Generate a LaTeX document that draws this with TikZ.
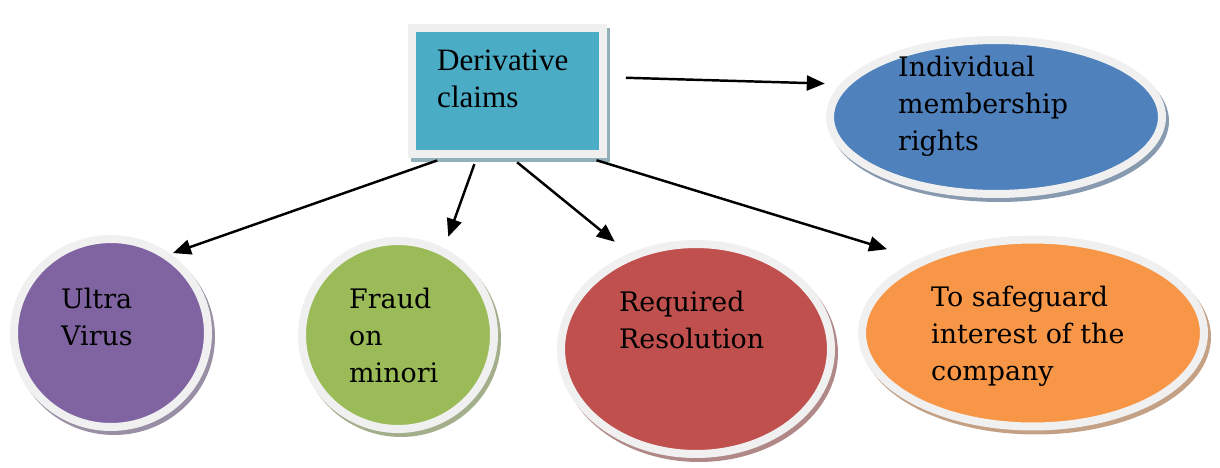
\documentclass[tikz,border=0pt]{standalone}
\usepackage{fontspec}
\setmainfont{Liberation Serif}
\newfontfamily\bubblefont{DejaVu Serif}
\usepackage{tikz}
\usetikzlibrary{arrows.meta,shapes.geometric}

\definecolor{boxteal}{HTML}{4BACC6}
\definecolor{boxshade}{HTML}{93AFB8}
\definecolor{ringgray}{HTML}{F0F0F0}
\definecolor{indblue}{HTML}{4F81BD}
\definecolor{ultrapurple}{HTML}{8064A2}
\definecolor{fraudgreen}{HTML}{9BBB59}
\definecolor{resolred}{HTML}{C0504D}
\definecolor{safeorange}{HTML}{F79646}

\begin{document}
\begin{tikzpicture}[
  x=0.02cm, y=-0.02cm,
  box/.style={draw=ringgray, line width=0.16cm, fill=boxteal, inner sep=0pt,
              minimum width=3.83cm, minimum height=2.53cm,
              preaction={draw=boxshade, fill=boxshade,
                         transform canvas={shift={(0.06cm,-0.08cm)}}}},
  bubble/.style={ellipse, draw=ringgray, line width=0.16cm, fill=#1, inner sep=0pt,
                 preaction={draw=#1!45!gray!80!white, fill=#1!45!gray!80!white,
                            transform canvas={shift={(0.06cm,-0.08cm)}}}},
  txt/.style={anchor=base west, inner sep=0pt, align=left,
              font=\bubblefont\fontsize{15.3}{21}\selectfont},
  >={Triangle[length=0.36cm,width=0.3cm]}, line width=1.4pt
]
\useasboundingbox (0,0) rectangle (1220,467);

\node[box] (claims) at (507.75,91.25) {};
\node[bubble=indblue, minimum width=6.64cm, minimum height=3.08cm] (indiv) at (996,117) {};
\node[bubble=ultrapurple, minimum width=3.88cm, minimum height=3.76cm] (ultra) at (111,333) {};
\node[bubble=fraudgreen, minimum width=3.84cm, minimum height=3.76cm] (fraud) at (398,335) {};
\node[bubble=resolred, minimum width=5.40cm, minimum height=4.20cm] (resol) at (696,349) {};
\node[bubble=safeorange, minimum width=6.84cm, minimum height=3.74cm] (safe) at (1033,333) {};

% base anchor sits on the last line
\node[txt, font=\fontsize{17.7}{21}\selectfont] (claimstxt) at (436,107) {Derivative\\claims};
\node[txt] (indivtxt) at (897,150) {Individual\\membership\\rights};
\node[txt] (ultratxt) at (60,345) {Ultra\\Virus};
\node[txt] (fraudtxt) at (348,382) {Fraud\\on\\minori};
\node[txt] (resoltxt) at (618,348) {Required\\Resolution};
\node[txt] (safetxt) at (930,380) {To safeguard\\interest of the\\company};

\draw[->, shorten <=0.37cm, shorten >=0.32cm] (claims.8.5) -- (indiv.168);
\draw[->, shorten <=0.12cm, shorten >=0.05cm] (claims.-134) -- (ultra.53);
\draw[->, shorten <=0.12cm, shorten >=0.24cm] (claims.-115) -- (fraud.62);
\draw[->, shorten <=0.12cm, shorten >=0.37cm] (claims.-86) -- (resol.125);
\draw[->, shorten <=0.12cm, shorten >=0.67cm] (claims.-39) -- (safe.147);
\end{tikzpicture}
\end{document}
